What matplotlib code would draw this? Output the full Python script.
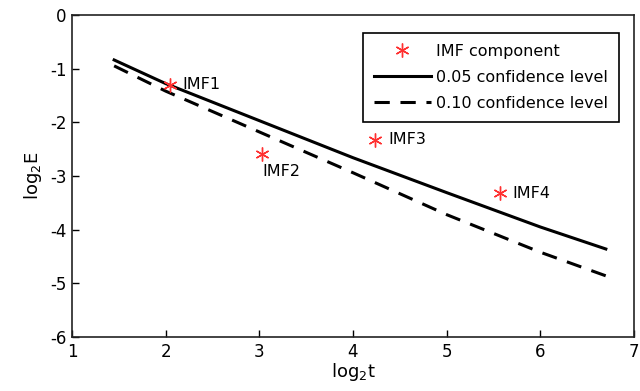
import numpy as np
import matplotlib
matplotlib.use('Agg')
import matplotlib.pyplot as plt

# ── Data ────────────────────────────────────────────────────────────────────
imf_names = ['IMF1', 'IMF2', 'IMF3', 'IMF4']
imf_log2t = [2.05, 3.03, 4.24, 5.57]
imf_log2E = [-1.30, -2.60, -2.33, -3.32]

conf_log2t = [1.45, 2.0, 3.0, 4.0, 5.0, 6.0, 6.70]
conf05_log2E = [-0.84, -1.28, -1.97, -2.66, -3.31, -3.95, -4.36]
conf10_log2E = [-0.95, -1.42, -2.18, -2.94, -3.72, -4.42, -4.86]

# label offsets (points) for each IMF annotation
label_offsets = [(9, 0), (0, -7), (9, 0), (9, 0)]

plt.rcParams['font.family'] = ['DejaVu Sans']
plt.rcParams['axes.unicode_minus'] = False

fig = plt.figure(figsize=(6.4, 3.91), dpi=100)
ax = fig.add_axes([0.1125, 0.138, 0.878, 0.824])

ax.plot(conf_log2t, conf05_log2E, color='black', lw=2.2,
        label='0.05 confidence level')
ax.plot(conf_log2t, conf10_log2E, color='black', lw=2.2, ls=(0, (5, 3.5)),
        label='0.10 confidence level')
ax.plot(imf_log2t, imf_log2E, ls='none', marker=(6, 2, 0), ms=10,
        mew=1.0, color='#ff3030', label='IMF component', zorder=5)

for name, x, y, off in zip(imf_names, imf_log2t, imf_log2E, label_offsets):
    va = 'top' if off[1] < 0 else 'center'
    ax.annotate(name, (x, y), xytext=off, textcoords='offset points',
                ha='left', va=va, fontsize=11.5)

ax.set_xlim(1, 7)
ax.set_ylim(-6, 0)
ax.set_xticks(range(1, 8))
ax.set_yticks(range(-6, 1))
ax.tick_params(direction='in', length=5, width=1, labelsize=12, pad=4)
for s in ax.spines.values():
    s.set_linewidth(1.2)
    s.set_color('#222222')

ax.set_xlabel('log$_2$t', fontsize=13, labelpad=0)
ax.set_ylabel('log$_2$E', fontsize=13, labelpad=4)

handles, labels = ax.get_legend_handles_labels()
order = [2, 0, 1]
leg = ax.legend([handles[i] for i in order], [labels[i] for i in order],
                loc='upper right', bbox_to_anchor=(0.988, 0.97),
                fontsize=11.5, fancybox=False, edgecolor='black',
                handlelength=3.6, framealpha=1, borderpad=0.7,
                labelspacing=0.7, handletextpad=0.3)
leg.get_frame().set_linewidth(1.2)

fig.savefig('out.png', dpi=100)
